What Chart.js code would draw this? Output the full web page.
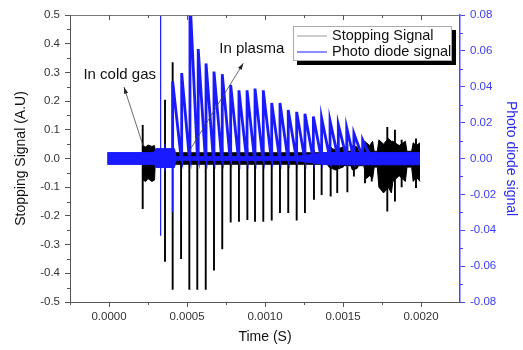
<!DOCTYPE html>
<html lang="en">
<head>
<meta charset="UTF-8">
<title>Stopping signal and photo diode signal</title>
<script src="https://cdn.jsdelivr.net/npm/chart.js@4"></script>
<style>
  body { margin: 0; background: #fff; }
  #wrap { width: 523px; height: 350px; }
</style>
</head>
<body>
<div id="wrap"><canvas id="chart" width="523" height="350"></canvas></div>
<script>
// axis ticks
const timeTicks = [0, 0.0005, 0.001, 0.0015, 0.002];
const timeTickLabels = ["0.0000", "0.0005", "0.0010", "0.0015", "0.0020"];
const stopTicks = [-0.5, -0.4, -0.3, -0.2, -0.1, 0, 0.1, 0.2, 0.3, 0.4, 0.5];
const stopTickLabels = ["-0.5", "-0.4", "-0.3", "-0.2", "-0.1", "0.0", "0.1", "0.2", "0.3", "0.4", "0.5"];
const diodeTicks = [-0.08, -0.06, -0.04, -0.02, 0, 0.02, 0.04, 0.06, 0.08];
const diodeTickLabels = ["-0.08", "-0.06", "-0.04", "-0.02", "0.00", "0.02", "0.04", "0.06", "0.08"];

// Stopping signal (left axis) - spikes
const stopSpikeTimes = [0.000216, 0.000359, 0.000408, 0.000462, 0.000515, 0.000566, 0.00062, 0.000673,
  0.000726, 0.00078, 0.000833, 0.000887, 0.000936, 0.000989, 0.001043, 0.001096, 0.001149, 0.001203,
  0.001256, 0.001314, 0.001363, 0.001421, 0.001463, 0.001528, 0.00157, 0.001641, 0.001684, 0.001784,
  0.001833, 0.001876, 0.001968];
const stopSpikeHigh = [0.117, 0.205, 0.335, 0.05, 0.06, 0.05, 0.05, 0.04, 0.04, 0.04, 0.035, 0.035, 0.035,
  0.03, 0.03, 0.03, 0.03, 0.03, 0.03, 0.03, 0.03, 0.04, 0.04, 0.05, 0.088, 0.06, 0.05, 0.11, 0.1, 0.065, 0.07];
const stopSpikeLow = [-0.176, -0.36, -0.457, -0.35, -0.457, -0.457, -0.457, -0.39, -0.316, -0.223, -0.22,
  -0.214, -0.22, -0.22, -0.216, -0.19, -0.19, -0.216, -0.19, -0.144, -0.127, -0.132, -0.12, -0.118,
  -0.063, -0.086, -0.08, -0.185, -0.15, -0.1, -0.103];

// Stopping signal noise envelope
const stopBandTimes = [-0.000011, 0.000214, 0.000218, 0.000235, 0.00025, 0.000275, 0.000292, 0.000296,
  0.0014, 0.00141, 0.00145, 0.0015, 0.00151, 0.00155, 0.00156, 0.00159, 0.0016, 0.00164, 0.00165,
  0.00167, 0.00169, 0.0017, 0.00172, 0.00173, 0.00176, 0.00179, 0.00181, 0.00182, 0.00186, 0.0019,
  0.00191, 0.00194, 0.00195, 0.00197, 0.001994];
const stopBandUpper = [0.015, 0.015, 0.045, 0.04, 0.047, 0.042, 0.045, 0.02, 0.02, 0.04, 0.03, 0.04,
  0.025, 0.025, 0.045, 0.04, 0.025, 0.025, 0.055, 0.045, 0.06, 0.025, 0.025, 0.065, 0.05, 0.07, 0.06,
  0.06, 0.045, 0.06, 0.025, 0.025, 0.055, 0.045, 0.055];
const stopBandLower = [-0.015, -0.015, -0.075, -0.08, -0.07, -0.08, -0.075, -0.02, -0.02, -0.03, -0.04,
  -0.03, -0.025, -0.025, -0.04, -0.035, -0.025, -0.025, -0.07, -0.06, -0.07, -0.03, -0.03, -0.1, -0.12,
  -0.1, -0.12, -0.08, -0.06, -0.08, -0.03, -0.03, -0.08, -0.065, -0.08];

// Photo diode signal (right axis)
const diodeBandTimes = [-0.000011, 0.00029, 0.0003, 0.00042, 0.00043, 0.0012, 0.0014, 0.001994];
const diodeBandUpper = [0.0033, 0.0033, 0.0055, 0.0055, 0.001, 0.0012, 0.0033, 0.0033];
const diodeBandLower = [-0.0033, -0.0033, -0.005, -0.005, -0.001, -0.0012, -0.0035, -0.0035];
const diodeSpikeTimes = [0.000331, 0.000359, 0.000407];
const diodeSpikeHigh = [0.09, 0.008, 0.006];
const diodeSpikeLow = [-0.043, -0.007, -0.03];
const diodePulseTimes = [0.000408, 0.000466, 0.000519, 0.000572, 0.000622, 0.000673, 0.000726, 0.00078,
  0.000833, 0.000885, 0.000936, 0.000989, 0.001043, 0.001096, 0.001149, 0.001203, 0.001256, 0.00131,
  0.001363, 0.001417, 0.00147, 0.001524, 0.00157, 0.001626];
const diodePulsePeaks = [0.043, 0.0476, 0.09, 0.061, 0.053, 0.0485, 0.047, 0.041, 0.038, 0.038, 0.039,
  0.038, 0.031, 0.031, 0.027, 0.026, 0.025, 0.0234, 0.0225, 0.021, 0.0188, 0.017, 0.014, 0.0104];
const diodePulseEnds = [0.00046, 0.000513, 0.000566, 0.000616, 0.000667, 0.00072, 0.000774, 0.000827,
  0.000879, 0.00093, 0.000983, 0.001037, 0.00109, 0.001143, 0.001197, 0.00125, 0.001304, 0.001357,
  0.001411, 0.001464, 0.001518, 0.001564, 0.00162, 0.00167];

const FONT = "Arial, 'Liberation Sans', sans-serif";
const BLUE = "#1a1aff";
const AXIS_BLUE = "#4646ff";

function spikePoints(times, high, low) {
  const pts = [];
  times.forEach((t, i) => {
    pts.push({x: t, y: 0}, {x: t, y: high[i]}, {x: t, y: low[i]}, {x: t, y: 0});
  });
  return pts;
}
function pulsePoints(times, peaks, ends) {
  const pts = [];
  times.forEach((t, i) => {
    pts.push({x: t, y: 0}, {x: t, y: peaks[i]}, {x: ends[i], y: 0.002});
  });
  return pts;
}
function bandPoints(times, vals) {
  return times.map((t, i) => ({x: t, y: vals[i]}));
}

// frame, minor ticks, annotations and legend
const extras = {
  id: "extras",
  afterDraw(chart) {
    const {ctx, chartArea: a, scales} = chart;
    const x = scales.x, y = scales.y, y1 = scales.y1;
    ctx.save();
    ctx.lineWidth = 1;

    function seg(x1, y1_, x2, y2) {
      ctx.beginPath(); ctx.moveTo(x1, y1_); ctx.lineTo(x2, y2); ctx.stroke();
    }
    // top frame with inward ticks
    ctx.strokeStyle = "#777";
    seg(a.left, a.top + 0.5, a.right, a.top + 0.5);
    ctx.strokeStyle = "#555";
    timeTicks.forEach(v => {
      const px = Math.round(x.getPixelForValue(v)) + 0.5;
      seg(px, a.top, px, a.top + 5);
    });
    const minorX = [-0.00025, 0.00025, 0.00075, 0.00125, 0.00175];
    minorX.forEach(v => {
      const px = Math.round(x.getPixelForValue(v)) + 0.5;
      seg(px, a.top, px, a.top + 3);
      seg(px, a.bottom, px, a.bottom + 3);
    });
    // left minor ticks
    for (let i = 0; i < stopTicks.length - 1; i++) {
      const py = Math.round(y.getPixelForValue((stopTicks[i] + stopTicks[i + 1]) / 2)) + 0.5;
      seg(a.left - 3, py, a.left, py);
    }
    // right minor ticks
    ctx.strokeStyle = AXIS_BLUE;
    for (let i = 0; i < diodeTicks.length - 1; i++) {
      const py = Math.round(y1.getPixelForValue((diodeTicks[i] + diodeTicks[i + 1]) / 2)) + 0.5;
      seg(a.right, py, a.right + 3, py);
    }

    // annotation arrows (data units)
    function arrow(t0, v0, t1, v1) {
      const x0 = x.getPixelForValue(t0), yy0 = y.getPixelForValue(v0);
      const x1 = x.getPixelForValue(t1), yy1 = y.getPixelForValue(v1);
      ctx.strokeStyle = "#444"; ctx.fillStyle = "#222"; ctx.lineWidth = 0.8;
      seg(x0, yy0, x1, yy1);
      const ang = Math.atan2(yy1 - yy0, x1 - x0);
      ctx.beginPath();
      ctx.moveTo(x1, yy1);
      ctx.lineTo(x1 - 7 * Math.cos(ang - 0.3), yy1 - 7 * Math.sin(ang - 0.3));
      ctx.lineTo(x1 - 7 * Math.cos(ang + 0.3), yy1 - 7 * Math.sin(ang + 0.3));
      ctx.closePath(); ctx.fill();
    }
    arrow(0.00022, 0.042, 0.0000962, 0.249);
    arrow(0.000519, 0.03, 0.000861, 0.332);

    ctx.fillStyle = "#111";
    ctx.font = "15px " + FONT;
    ctx.textAlign = "center";
    ctx.textBaseline = "alphabetic";
    ctx.fillText("In cold gas", x.getPixelForValue(0.0000686), y.getPixelForValue(0.277));
    ctx.fillText("In plasma", x.getPixelForValue(0.000915), y.getPixelForValue(0.367));

    // legend box with shadow
    const lx = a.left + 223, ly = a.top + 11, lw = 159, lh = 35;
    ctx.fillStyle = "#000";
    ctx.fillRect(lx + 4, ly + 4, lw, lh);
    ctx.fillStyle = "#fff";
    ctx.fillRect(lx, ly, lw, lh);
    ctx.strokeStyle = "#aaa"; ctx.lineWidth = 1;
    ctx.strokeRect(lx + 0.5, ly + 0.5, lw - 1, lh - 1);
    ctx.lineWidth = 1;
    ctx.strokeStyle = "#999";
    seg(lx + 4, ly + 10, lx + 34, ly + 10);
    ctx.strokeStyle = BLUE;
    seg(lx + 4, ly + 26, lx + 34, ly + 26);
    ctx.fillStyle = "#111";
    ctx.font = "14.5px " + FONT;
    ctx.textAlign = "left";
    ctx.textBaseline = "middle";
    ctx.fillText("Stopping Signal", lx + 39, ly + 10);
    ctx.fillText("Photo diode signal", lx + 39, ly + 26);
    ctx.restore();
  }
};

new Chart(document.getElementById("chart"), {
  type: "line",
  data: {
    datasets: [
      { label: "Photo diode signal", data: pulsePoints(diodePulseTimes, diodePulsePeaks, diodePulseEnds),
        yAxisID: "y1", borderColor: BLUE, borderWidth: 2.8, fill: false, order: 1 },
      { label: "Photo diode spikes", data: spikePoints(diodeSpikeTimes, diodeSpikeHigh, diodeSpikeLow),
        yAxisID: "y1", borderColor: BLUE, borderWidth: 1.2, fill: false, order: 2 },
      { label: "Photo diode noise", data: bandPoints(diodeBandTimes, diodeBandUpper),
        yAxisID: "y1", borderColor: BLUE, borderWidth: 1, backgroundColor: BLUE, fill: "+1", order: 3 },
      { label: "Photo diode noise low", data: bandPoints(diodeBandTimes, diodeBandLower),
        yAxisID: "y1", borderColor: BLUE, borderWidth: 1, fill: false, order: 4 },
      { label: "Stopping Signal", data: spikePoints(stopSpikeTimes, stopSpikeHigh, stopSpikeLow),
        yAxisID: "y", borderColor: "#000", borderWidth: 1.9, fill: false, order: 5 },
      { label: "Stopping noise", data: bandPoints(stopBandTimes, stopBandUpper),
        yAxisID: "y", borderColor: "#000", borderWidth: 1, backgroundColor: "#000", fill: "+1", order: 6 },
      { label: "Stopping noise low", data: bandPoints(stopBandTimes, stopBandLower),
        yAxisID: "y", borderColor: "#000", borderWidth: 1, fill: false, order: 7 }
    ]
  },
  options: {
    responsive: false,
    animation: false,
    devicePixelRatio: 1,
    layout: { padding: { top: 15, left: 0, right: 0, bottom: 0 } },
    elements: { point: { radius: 0, hoverRadius: 0 }, line: { tension: 0 } },
    plugins: { legend: { display: false }, tooltip: { enabled: false } },
    scales: {
      x: {
        type: "linear", min: -0.00025, max: 0.00225,
        afterFit(s) { s.height = 48; },
        afterBuildTicks(s) { s.ticks = timeTicks.map(v => ({value: v})); },
        ticks: { callback: (v, i) => timeTickLabels[i], color: "#333", padding: 3,
          maxRotation: 0, autoSkip: false, font: { family: FONT, size: 11.5 } },
        grid: { drawOnChartArea: false, tickLength: 5, tickColor: "#555" },
        border: { color: "#555", width: 1 },
        title: { display: true, text: "Time (S)", color: "#111",
          font: { family: FONT, size: 14 }, padding: { top: 0, bottom: 4.6 } }
      },
      y: {
        position: "left", min: -0.5, max: 0.5,
        afterFit(s) { s.width = 70; },
        afterBuildTicks(s) { s.ticks = stopTicks.map(v => ({value: v})); },
        ticks: { callback: (v, i) => stopTickLabels[i], color: "#333", padding: 5,
          autoSkip: false, font: { family: FONT, size: 11.5 } },
        grid: { drawOnChartArea: false, tickLength: 5, tickColor: "#555" },
        border: { color: "#555", width: 1 },
        title: { display: true, text: "Stopping Signal (A.U)", color: "#111",
          font: { family: FONT, size: 14 }, padding: { top: 12.6, bottom: 0 } }
      },
      y1: {
        position: "right", min: -0.08, max: 0.08,
        afterFit(s) { s.width = 63; },
        afterBuildTicks(s) { s.ticks = diodeTicks.map(v => ({value: v})); },
        ticks: { callback: (v, i) => diodeTickLabels[i], color: "#3b3bf5", padding: 5,
          autoSkip: false, font: { family: FONT, size: 11.5 } },
        grid: { drawOnChartArea: false, tickLength: 5, tickColor: AXIS_BLUE },
        border: { color: AXIS_BLUE, width: 1.5 },
        title: { display: true, text: "Photo diode signal", color: "#2a2af5",
          font: { family: FONT, size: 14 }, padding: { top: 3.6, bottom: 0 } }
      }
    }
  },
  plugins: [extras]
});
</script>
</body>
</html>
